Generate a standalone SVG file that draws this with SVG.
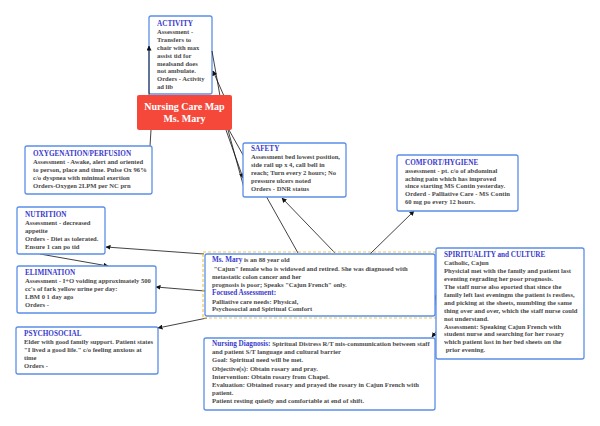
<svg xmlns="http://www.w3.org/2000/svg" width="600" height="426" viewBox="0 0 600 426">
<defs>
<marker id="ah" viewBox="0 0 10 10" refX="9" refY="5" markerWidth="5" markerHeight="5" orient="auto" markerUnits="userSpaceOnUse">
<path d="M0,0 L10,5 L0,10 z" fill="#111"/>
</marker>
</defs>
<style>
.box{fill:#fff;stroke:#5b8ee8;stroke-width:1.3}
.t{font-family:"Liberation Serif","Times New Roman",serif;font-weight:bold;font-size:6.6px;fill:#4a4a4a}
.h{fill:#3a3acc;font-size:7.2px}
.c{stroke:#111;stroke-width:0.8;fill:none}
.ca{stroke:#111;stroke-width:0.8;fill:none;marker-end:url(#ah)}
.red{fill:#f5483b}
.rt{font-family:"Liberation Serif","Times New Roman",serif;font-weight:bold;font-size:10px;fill:#fff;text-anchor:middle}
</style>
<rect width="600" height="426" fill="#fff"/>

<g id="activity">
<rect class="box" x="149" y="16" width="63" height="78" rx="2"/>
<text class="t"><tspan class="h" x="157" y="26">ACTIVITY</tspan><tspan x="157" y="34">Assessment -</tspan><tspan x="157" y="42">Transfers to</tspan><tspan x="157" y="50">chair with max</tspan><tspan x="157" y="58">assist tid for</tspan><tspan x="157" y="66">mealsand does</tspan><tspan x="157" y="73">not ambulate.</tspan><tspan x="157" y="81">Orders - Activity</tspan><tspan x="157" y="89">ad lib</tspan></text>
</g>

<g id="connectors">
<line class="c" x1="220" y1="96" x2="212" y2="51"/>
<line class="ca" x1="224" y1="96" x2="213" y2="71"/>
<line class="ca" x1="149" y1="95" x2="149" y2="46"/>
<line class="c" x1="151" y1="130" x2="150" y2="146"/>
<line class="ca" x1="226" y1="130" x2="243" y2="178"/>
<line class="c" x1="228" y1="130" x2="244" y2="188"/>
<line class="c" x1="229" y1="130" x2="298" y2="253"/>
<line class="ca" x1="335" y1="253" x2="282" y2="198"/>
<line class="ca" x1="370" y1="254" x2="414" y2="211"/>
<line class="ca" x1="204" y1="254" x2="106" y2="247"/>
<line class="ca" x1="40" y1="254" x2="108" y2="266"/>
<line class="ca" x1="205" y1="291" x2="156" y2="287"/>
<line class="ca" x1="207" y1="318" x2="158" y2="328"/>
<line class="ca" x1="436" y1="305" x2="436" y2="295"/>
<line class="ca" x1="438" y1="329" x2="432" y2="337"/>
</g>

<g id="care-map">
<rect class="red" x="137" y="95" width="95" height="35" rx="2"/>
<text class="rt" x="184.5" y="110">Nursing Care Map</text>
<text class="rt" x="184.5" y="122">Ms. Mary</text>
</g>

<g id="oxygenation">
<rect class="box" x="25" y="146" width="127" height="48" rx="2"/>
<text class="t"><tspan class="h" x="33" y="156">OXYGENATION/PERFUSION</tspan><tspan x="33" y="164">Assessment - Awake, alert and oriented</tspan><tspan x="33" y="172">to person, place and time. Pulse Ox 96%</tspan><tspan x="33" y="180">c/o dyspnea with minimal exertion</tspan><tspan x="33" y="188">Orders-Oxygen 2LPM per NC prn</tspan></text>
</g>

<g id="safety">
<rect class="box" x="243" y="143" width="103" height="54" rx="2"/>
<text class="t"><tspan class="h" x="251" y="151">SAFETY</tspan><tspan x="251" y="159">Assessment bed lowest position,</tspan><tspan x="251" y="167">side rail up x 4, call bell in</tspan><tspan x="251" y="175">reach; Turn every 2 hours; No</tspan><tspan x="251" y="183">pressure ulcers noted</tspan><tspan x="251" y="191">Orders - DNR status</tspan></text>
</g>

<g id="comfort">
<rect class="box" x="397" y="155" width="121" height="56" rx="2"/>
<text class="t"><tspan class="h" x="405" y="165">COMFORT/HYGIENE</tspan><tspan x="405" y="173">assessment - pt. c/o of abdominal</tspan><tspan x="405" y="181">aching pain which has improved</tspan><tspan x="405" y="188">since starting MS Contin yesterday.</tspan><tspan x="405" y="196">Orderd - Palliative Care - MS Contin</tspan><tspan x="405" y="204">60 mg po every 12 hours.</tspan></text>
</g>

<g id="nutrition">
<rect class="box" x="17" y="207" width="88" height="47" rx="2"/>
<text class="t"><tspan class="h" x="25" y="217">NUTRITION</tspan><tspan x="25" y="225">Assessment - decreased</tspan><tspan x="25" y="233">appetite</tspan><tspan x="25" y="241">Orders - Diet as tolerated.</tspan><tspan x="25" y="249">Ensure 1  can po tid</tspan></text>
</g>

<g id="elimination">
<rect class="box" x="17" y="266" width="139" height="47" rx="2"/>
<text class="t"><tspan class="h" x="25" y="275">ELIMINATION</tspan><tspan x="25" y="283">Assessment - I+O voiding approximately 500</tspan><tspan x="25" y="291">cc's of fark yellow urine per day:</tspan><tspan x="25" y="299">LBM 0 1 day ago</tspan><tspan x="25" y="307">Orders -</tspan></text>
</g>

<g id="psychosocial">
<rect class="box" x="16" y="327" width="142" height="47" rx="2"/>
<text class="t"><tspan class="h" x="24" y="336">PSYCHOSOCIAL</tspan><tspan x="24" y="344">Elder with good family support. Patient states</tspan><tspan x="24" y="352">"I lived a good life." c/o feeling anxious at</tspan><tspan x="24" y="360">time</tspan><tspan x="24" y="368">Orders -</tspan></text>
</g>

<g id="ms-mary">
<rect x="203" y="252" width="234" height="66" fill="none" stroke="#f4c64a" stroke-width="1.2" stroke-dasharray="3,2"/>
<rect class="box" x="205" y="254" width="230" height="62" rx="2"/>
<text class="t"><tspan class="h" x="212" y="262">Ms. Mary</tspan><tspan> is an 88 year old</tspan><tspan x="212" y="271"> "Cajun" female who is widowed and retired. She was diagnosed with</tspan><tspan x="212" y="279">metastatic colon cancer and her</tspan><tspan x="212" y="287">prognosis is poor; Speaks "Cajun French" only.</tspan><tspan class="h" x="212" y="295">Focused Assessment:</tspan><tspan x="212" y="304">Palliative care needs: Physical,</tspan><tspan x="212" y="311">Psychosocial and Spiritual Comfort</tspan></text>
</g>

<g id="nursing-diagnosis">
<rect class="box" x="204" y="338" width="231" height="72" rx="2"/>
<text class="t"><tspan class="h" x="212" y="346">Nursing Diagnosis:</tspan><tspan> Spiritual Distress R/T mis-communication between staff</tspan><tspan x="212" y="354">and patient S/T language and cultural barrier</tspan><tspan x="212" y="362">Goal: Spiritual need will be met.</tspan><tspan x="212" y="371">Objective(s):  Obtain rosary and pray.</tspan><tspan x="212" y="379">Intervention: Obtain rosary from Chapel.</tspan><tspan x="212" y="387">Evaluation: Obtained rosary and prayed the rosary in Cajun French with</tspan><tspan x="212" y="395">patient.</tspan><tspan x="212" y="403">Patient resting quietly and comfortable at end of shift.</tspan></text>
</g>

<g id="spirituality">
<rect class="box" x="436" y="248" width="148" height="111" rx="2"/>
<text class="t"><tspan class="h" x="444" y="257">SPIRITUALITY and CULTURE</tspan><tspan x="444" y="265">Catholic, Cajun</tspan><tspan x="444" y="273">Physicial met with the family and patient last</tspan><tspan x="444" y="281">eventing regrading her poor prognosis.</tspan><tspan x="444" y="289">The staff nurse also eported that since the</tspan><tspan x="444" y="297">family left last eveningm the patient is restless,</tspan><tspan x="444" y="305">and picking at the sheets, mumbling the same</tspan><tspan x="444" y="313">thing over and over, which the staff nurse could</tspan><tspan x="444" y="321">not understand.</tspan><tspan x="444" y="329">Assessment: Speaking Cajun French with</tspan><tspan x="444" y="336">student nurse and searching for her rosary</tspan><tspan x="444" y="344">which patient lost in her bed sheets on the</tspan><tspan x="444" y="352"> prior evening.</tspan></text>
</g>
</svg>
